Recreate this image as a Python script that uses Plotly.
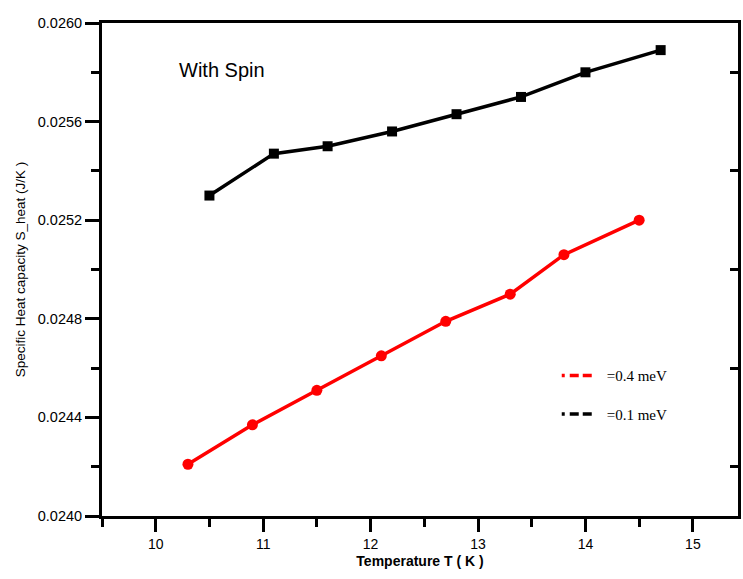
import plotly.graph_objects as go

# Temperature (K) and specific heat capacity (J/K) for the two splittings
temp_04 = [10.3, 10.9, 11.5, 12.1, 12.7, 13.3, 13.8, 14.5]
heat_04 = [0.02421, 0.02437, 0.02451, 0.02465, 0.02479, 0.02490, 0.02506, 0.02520]

temp_01 = [10.5, 11.1, 11.6, 12.2, 12.8, 13.4, 14.0, 14.7]
heat_01 = [0.02530, 0.02547, 0.02550, 0.02556, 0.02563, 0.02570, 0.02580, 0.02589]

x_ticks = [10, 11, 12, 13, 14, 15]
y_ticks = [0.0240, 0.0244, 0.0248, 0.0252, 0.0256, 0.0260]
y_labels = ["0.0240", "0.0244", "0.0248", "0.0252", "0.0256", "0.0260"]
y_minor = [0.0242, 0.0246, 0.0250, 0.0254, 0.0258]

legend_labels = ["=0.4 meV", "=0.1 meV"]

SANS = "Liberation Sans, Arial, sans-serif"
SERIF = "Liberation Serif, Times New Roman, serif"
X_RANGE = [9.5, 15.42]
Y_RANGE = [0.0240, 0.0260]

fig = go.Figure()

fig.add_trace(go.Scatter(
    x=temp_04, y=heat_04, mode="lines+markers",
    line=dict(color="#ff0000", width=3.5),
    marker=dict(symbol="circle", size=11, color="#ff0000"),
    showlegend=False,
))
fig.add_trace(go.Scatter(
    x=temp_01, y=heat_01, mode="lines+markers",
    line=dict(color="#000000", width=3.5),
    marker=dict(symbol="square", size=10, color="#000000"),
    showlegend=False,
))

# legend keys: dot-dash-dash samples without markers
for i, (label, color) in enumerate(zip(legend_labels, ["#ff0000", "#000000"])):
    fig.add_trace(go.Scatter(
        x=[None], y=[None], mode="lines", name=label, legendgroup=f"g{i}",
        line=dict(color=color, width=3.5, dash="3px,5px,9px,4px,9px,40px"),
    ))

# right-hand axis carrying inward ticks
fig.add_trace(go.Scatter(x=[None], y=[None], yaxis="y2", showlegend=False))

fig.add_annotation(
    x=10.2, y=0.02581, xref="x", yref="y", text="With Spin",
    showarrow=False, xanchor="left", yanchor="middle",
    font=dict(family=SANS, size=20, color="#000000"),
)

fig.update_layout(
    width=743, height=579,
    margin=dict(l=102, r=2, t=23, b=63),
    paper_bgcolor="white", plot_bgcolor="white",
    xaxis=dict(
        range=X_RANGE, tickvals=x_ticks, ticktext=[str(t) for t in x_ticks],
        showgrid=False, zeroline=False,
        showline=True, linecolor="black", linewidth=3, mirror=True,
        ticks="outside", ticklen=13, tickwidth=3, tickcolor="black",
        minor=dict(dtick=0.5, ticks="outside", ticklen=8, tickwidth=3,
                   tickcolor="black", showgrid=False),
        tickfont=dict(family=SANS, size=14, color="#000000"),
        title=dict(text="<b>Temperature T ( K )</b>", standoff=6,
                   font=dict(family=SANS, size=14, color="#000000")),
    ),
    yaxis=dict(
        range=Y_RANGE, tickvals=y_ticks, ticktext=y_labels,
        showgrid=False, zeroline=False,
        showline=True, linecolor="black", linewidth=3, mirror=True,
        ticks="outside", ticklen=14, tickwidth=3, tickcolor="black",
        minor=dict(tickvals=y_minor, ticks="outside", ticklen=8, tickwidth=3,
                   tickcolor="black", showgrid=False),
        tickfont=dict(family=SANS, size=14.5, color="#000000"),
        title=dict(text="Specific Heat capacity S_heat (J/K )", standoff=10,
                   font=dict(family=SANS, size=13.5, color="#000000")),
    ),
    yaxis2=dict(
        range=Y_RANGE, overlaying="y", side="right", anchor="x",
        tickvals=y_minor, showticklabels=False, showgrid=False, zeroline=False,
        ticks="inside", ticklen=8, tickwidth=3, tickcolor="black",
        showline=False,
    ),
    legend=dict(
        x=0.715, y=0.318, xanchor="left", yanchor="top",
        bgcolor="rgba(0,0,0,0)", borderwidth=0,
        font=dict(family=SERIF, size=15, color="#000000"),
        tracegroupgap=16, itemwidth=40,
    ),
)

fig.write_html("out.html")
